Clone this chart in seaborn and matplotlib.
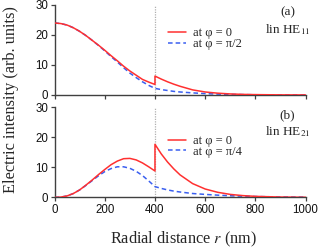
import matplotlib
matplotlib.use("Agg")
import matplotlib.pyplot as plt
import seaborn as sns
import pandas as pd
from matplotlib.lines import Line2D

# radial positions (nm); 400 appears twice to represent the step at the fibre surface
r_vals = [0, 25, 50, 75, 100, 125, 150, 175, 200, 225, 250, 275, 300, 325, 350, 375, 400,
          400, 425, 450, 475, 500, 550, 600, 650, 700, 750, 800, 900, 1000]

# (a) lin HE11
he11_phi0 = [24.0, 23.8, 23.3, 22.4, 21.2, 19.8, 18.2, 16.6, 14.9, 13.1, 11.4, 9.6, 8.0, 6.6, 5.2, 4.3, 3.5,
             6.3, 5.3, 4.4, 3.6, 2.9, 1.7, 1.0, 0.6, 0.35, 0.2, 0.12, 0.04, 0.01]
he11_phi90 = [24.0, 23.8, 23.3, 22.4, 21.2, 19.8, 18.2, 16.5, 14.7, 12.8, 11.0, 9.1, 7.3, 5.8, 4.4, 3.2, 2.2,
              2.2, 1.8, 1.5, 1.2, 1.0, 0.7, 0.45, 0.3, 0.2, 0.13, 0.08, 0.03, 0.01]

# (b) lin HE21
he21_phi0 = [0.0, 0.1, 0.5, 1.3, 2.5, 4.1, 5.8, 7.6, 9.3, 10.9, 12.1, 12.9, 13.0, 12.5, 11.5, 10.2, 8.8,
             17.7, 14.5, 11.8, 9.5, 7.5, 4.6, 2.8, 1.7, 1.0, 0.6, 0.35, 0.12, 0.04]
he21_phi45 = [0.0, 0.1, 0.5, 1.3, 2.5, 4.0, 5.6, 7.2, 8.6, 9.6, 10.2, 10.2, 9.7, 8.7, 7.3, 5.5, 3.6,
              3.6, 3.0, 2.5, 2.1, 1.8, 1.3, 1.0, 0.75, 0.55, 0.4, 0.3, 0.15, 0.08]

panels = [
    ("(a)", r"lin HE$_{11}$", he11_phi0, he11_phi90, "at φ = 0", "at φ = π/2", 0.624),
    ("(b)", r"lin HE$_{21}$", he21_phi0, he21_phi45, "at φ = 0", "at φ = π/4", 0.568),
]

x_ticks = [0, 200, 400, 600, 800, 1000]
y_ticks = [0, 10, 20, 30]

sns.set_style("ticks")
plt.rcParams["font.family"] = ["Liberation Sans", "DejaVu Sans"]
plt.rcParams["mathtext.fontset"] = "stix"

RED = "#ff3030"
BLUE = "#3a5ff0"
SERIF = ["Liberation Serif", "DejaVu Serif"]

fig = plt.figure(figsize=(3.19, 2.48), dpi=100)
axes = [fig.add_axes([0.171, 0.617, 0.787, 0.363]),
        fig.add_axes([0.171, 0.204, 0.787, 0.363])]

for i, (ax, (tag, mode, s0, s1, l0, l1, ly)) in enumerate(zip(axes, panels)):
    df0 = pd.DataFrame({"r": r_vals, "I": s0})
    df1 = pd.DataFrame({"r": r_vals, "I": s1})
    ax.axvline(400, color="#b0b0b0", lw=0.9, ls=(0, (1, 1)), zorder=0)
    sns.lineplot(data=df1, x="r", y="I", ax=ax, estimator=None, sort=False,
                 color=BLUE, lw=1.1, ls=(0, (3, 2)), zorder=2)
    sns.lineplot(data=df0, x="r", y="I", ax=ax, estimator=None, sort=False,
                 color=RED, lw=1.1, zorder=3)
    ax.set_xlim(0, 1000)
    ax.set_ylim(0, 30)
    ax.set_xticks(x_ticks)
    ax.set_yticks(y_ticks)
    ax.set_xlabel("")
    ax.set_ylabel("")
    sns.despine(ax=ax)
    for sp in ("left", "bottom"):
        ax.spines[sp].set_color("#404040")
        ax.spines[sp].set_linewidth(1.0)
    ax.tick_params(axis="both", length=3, width=0.9, color="#404040",
                   labelsize=8.3, pad=1.5, labelcolor="#111111")
    if i == 0:
        ax.tick_params(axis="x", labelbottom=False)
    handles = [Line2D([], [], color=RED, lw=1.1),
               Line2D([], [], color=BLUE, lw=1.1, ls=(0, (3, 2)))]
    ax.legend(handles, [l0, l1], loc="center left", bbox_to_anchor=(0.452, ly),
              frameon=False, prop={"family": SERIF, "size": 9},
              handlelength=1.45, handletextpad=0.55, labelspacing=-0.1,
              borderaxespad=0.0, borderpad=0.0)
    ax.text(0.928, 0.915, tag, transform=ax.transAxes, ha="center", va="center",
            fontsize=9.5, family=SERIF)
    ax.text(0.928, 0.73, mode, transform=ax.transAxes, ha="center", va="center",
            fontsize=9.5, family=SERIF)

fig.text(0.574, 0.036, "Radial distance $r$ (nm)", ha="center", va="center",
         fontsize=11.7, family=SERIF)
fig.text(0.035, 0.597, "Electric intensity (arb. units)", ha="center", va="center",
         rotation=90, fontsize=11.7, family=SERIF)

fig.savefig("out.png", dpi=100)
